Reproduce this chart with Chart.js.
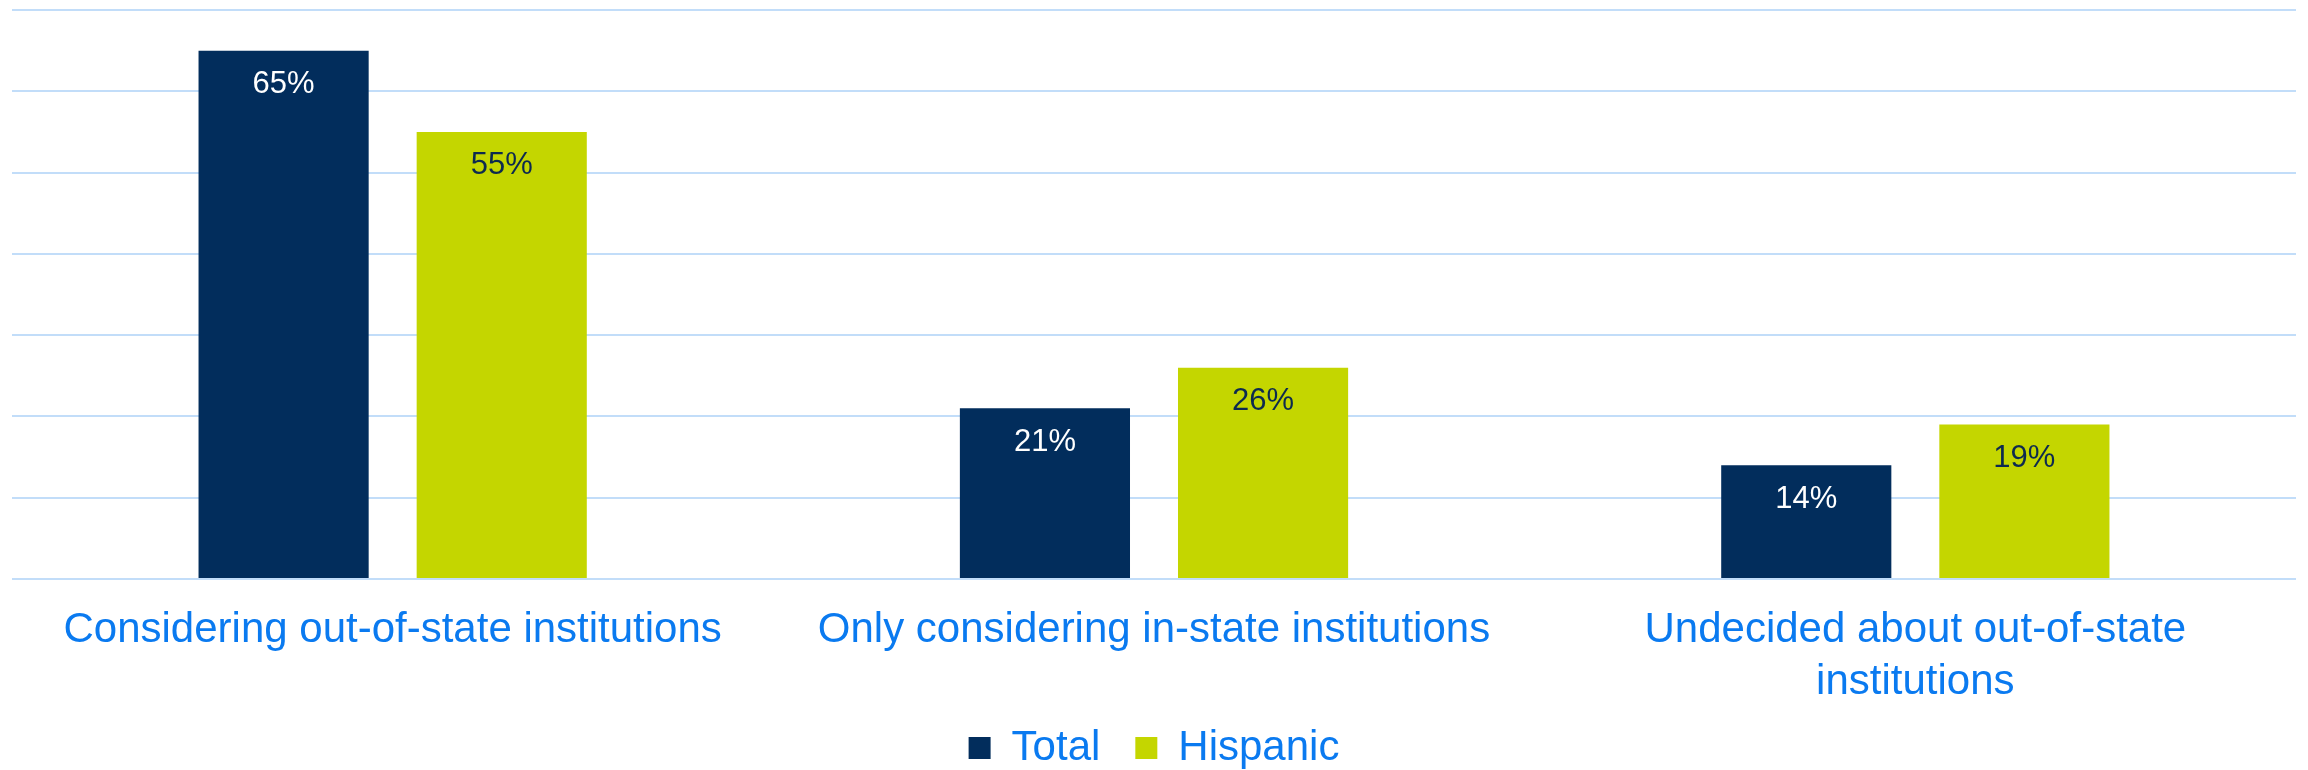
<!DOCTYPE html>
<html>
<head>
<meta charset="utf-8">
<script src="https://cdn.jsdelivr.net/npm/chart.js@4.4.1/dist/chart.umd.min.js"></script>
<style>
  html, body { margin: 0; padding: 0; background: #ffffff; }
  #wrap { width: 2308px; height: 770px; }
</style>
</head>
<body>
<div id="wrap"><canvas id="chart"></canvas></div>
<script>
// chart data
var categories = [
    'Considering out-of-state institutions',
    'Only considering in-state institutions',
    ['Undecided about out-of-state', 'institutions']
];
var seriesNames = ['Total', 'Hispanic'];
var totalValues = [65, 21, 14];
var hispanicValues = [55, 26, 19];

var navy = '#022D5C';
var lime = '#C4D600';
var labelBlue = '#0A7AF0';
var gridBlue = '#C2DDF9';

// draws the % label just inside the top of each bar
var barLabels = {
    id: 'barLabels',
    afterDatasetsDraw: function(chart) {
        var ctx = chart.ctx;
        ctx.save();
        ctx.font = '31px "Liberation Sans", Arial, sans-serif';
        ctx.textAlign = 'center';
        ctx.textBaseline = 'middle';
        chart.data.datasets.forEach(function(ds, i) {
            var meta = chart.getDatasetMeta(i);
            ctx.fillStyle = i === 0 ? '#FFFFFF' : '#0D2A4F';
            meta.data.forEach(function(bar, j) {
                ctx.fillText(ds.data[j] + '%', bar.x, bar.y + 34);
            });
        });
        ctx.restore();
    }
};

var ctx = document.getElementById('chart').getContext('2d');
var chart = new Chart(ctx, {
    type: 'bar',
    data: {
        labels: categories,
        datasets: [{
            label: seriesNames[0],
            data: totalValues,
            backgroundColor: navy
        }, {
            label: seriesNames[1],
            data: hispanicValues,
            backgroundColor: lime
        }]
    },
    options: {
        responsive: true,
        maintainAspectRatio: false,
        animation: false,
        categoryPercentage: 0.573,
        barPercentage: 0.78,
        layout: {
            padding: { left: 12, right: 12, top: 10, bottom: -9 }
        },
        scales: {
            x: {
                grid: { display: false },
                border: { display: false },
                afterFit: function(scale) { scale.height = 148; },
                ticks: {
                    color: labelBlue,
                    padding: 17,
                    maxRotation: 0,
                    autoSkip: false,
                    font: { family: '"Liberation Sans", Arial, sans-serif', size: 42, lineHeight: 1.25 }
                }
            },
            y: {
                min: 0,
                max: 70,
                ticks: { stepSize: 10, display: false },
                border: { display: false },
                grid: { color: gridBlue, lineWidth: 2, drawTicks: false }
            }
        },
        plugins: {
            legend: {
                position: 'bottom',
                labels: {
                    color: labelBlue,
                    boxWidth: 22,
                    boxHeight: 22,
                    padding: 0,
                    font: { family: '"Liberation Sans", Arial, sans-serif', size: 42 },
                    // widen the gap after "Total" the way the original legend spaces its items
                    generateLabels: function(chart) {
                        var items = Chart.defaults.plugins.legend.labels.generateLabels(chart);
                        items.forEach(function(item, i) {
                            if (i < items.length - 1) item.text = item.text + '\u00A0\u00A0\u00A0';
                        });
                        return items;
                    }
                }
            },
            tooltip: { enabled: false }
        }
    },
    plugins: [barLabels]
});
</script>
</body>
</html>
